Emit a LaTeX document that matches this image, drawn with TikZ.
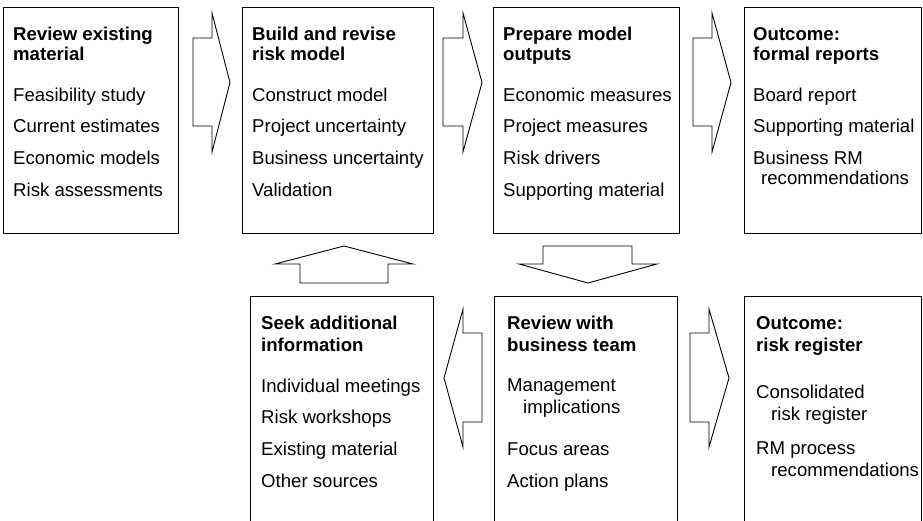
\documentclass[tikz,border=0pt]{standalone}
\usepackage{fontspec}
\setmainfont{Liberation Sans}
\begin{document}
\begin{tikzpicture}[x=1pt,y=-1pt,
  box/.style={draw=black, line width=0.9pt, inner sep=0, outer sep=0, anchor=north west},
  ttl/.style={font=\bfseries\fontsize{18.6}{20}\selectfont, anchor=base west, inner sep=0},
  itm/.style={font=\fontsize{18.6}{20}\selectfont, anchor=base west, inner sep=0},
  blockarrow/.style={draw=black, line width=0.9pt, line join=miter, fill=white}]
\useasboundingbox (0,0) rectangle (923,521);
\clip (0,0) rectangle (923,521);
% top row boxes
\node[box, minimum width=175pt, minimum height=226pt] (b1) at (3,7) {};
\node[box, minimum width=191pt, minimum height=226pt] (b2) at (242,7) {};
\node[box, minimum width=186pt, minimum height=226pt] (b3) at (493,7) {};
\node[box, minimum width=177pt, minimum height=226pt] (b4) at (744,7) {};
% bottom row boxes (open at the bottom edge)
\node[box, minimum width=183pt, minimum height=240pt] (b5) at (250,296) {};
\node[box, minimum width=183pt, minimum height=240pt] (b6) at (494,296) {};
\node[box, minimum width=177pt, minimum height=240pt] (b7) at (744,296) {};
% box 1
\node[ttl] (t1a) at (13,41) {Review existing};
\node[ttl] (t1b) at (13,61) {material};
\node[itm] (i1a) at (13,102) {Feasibility study};
\node[itm] (i1b) at (13,133) {Current estimates};
\node[itm] (i1c) at (13,165) {Economic models};
\node[itm] (i1d) at (13,197) {Risk assessments};
% box 2
\node[ttl] (t2a) at (252,41) {Build and revise};
\node[ttl] (t2b) at (252,61) {risk model};
\node[itm] (i2a) at (252,102) {Construct model};
\node[itm] (i2b) at (252,133) {Project uncertainty};
\node[itm] (i2c) at (252,165) {Business uncertainty};
\node[itm] (i2d) at (252,197) {Validation};
% box 3
\node[ttl] (t3a) at (503,41) {Prepare model};
\node[ttl] (t3b) at (503,61) {outputs};
\node[itm] (i3a) at (503,102) {Economic measures};
\node[itm] (i3b) at (503,133) {Project measures};
\node[itm] (i3c) at (503,165) {Risk drivers};
\node[itm] (i3d) at (503,197) {Supporting material};
% box 4
\node[ttl] (t4a) at (753,41) {Outcome:};
\node[ttl] (t4b) at (753,61) {formal reports};
\node[itm] (i4a) at (753,102) {Board report};
\node[itm] (i4b) at (753,133) {Supporting material};
\node[itm] (i4c) at (753,165) {Business RM};
\node[itm] (i4d) at (761,185) {recommendations};
% box 5
\node[ttl] (t5a) at (261,329) {Seek additional};
\node[ttl] (t5b) at (261,351) {information};
\node[itm] (i5a) at (261,392) {Individual meetings};
\node[itm] (i5b) at (261,423) {Risk workshops};
\node[itm] (i5c) at (261,455) {Existing material};
\node[itm] (i5d) at (261,487) {Other sources};
% box 6
\node[ttl] (t6a) at (507,329) {Review with};
\node[ttl] (t6b) at (507,351) {business team};
\node[itm] (i6a) at (507,391) {Management};
\node[itm] (i6b) at (523,413) {implications};
\node[itm] (i6c) at (507,455) {Focus areas};
\node[itm] (i6d) at (507,487) {Action plans};
% box 7
\node[ttl] (t7a) at (756,329) {Outcome:};
\node[ttl] (t7b) at (756,351) {risk register};
\node[itm] (i7a) at (756,398) {Consolidated};
\node[itm] (i7b) at (771,420) {risk register};
\node[itm] (i7c) at (756,454) {RM process};
\node[itm] (i7d) at (771,476) {recommendations};
% block arrows, top row (pointing right)
\draw[blockarrow] (193,38) -- (212,38) -- (212,13) -- (230,82.5) -- (212,152) -- (212,126) -- (193,126) -- cycle;
\draw[blockarrow] (443,38) -- (463,38) -- (463,13) -- (482,82.5) -- (463,152) -- (463,126) -- (443,126) -- cycle;
\draw[blockarrow] (693,38) -- (712,38) -- (712,13) -- (731,82.5) -- (712,152) -- (712,126) -- (693,126) -- cycle;
% up arrow and down arrow between rows
\draw[blockarrow] (300,283) -- (300,264) -- (275,264) -- (344,246) -- (413,264) -- (388,264) -- (388,283) -- cycle;
\draw[blockarrow] (543,246) -- (632,246) -- (632,264) -- (657,264) -- (588,283) -- (519,264) -- (543,264) -- cycle;
% bottom row arrows
\draw[blockarrow] (482,333) -- (463,333) -- (463,309) -- (444,378) -- (463,447) -- (463,422) -- (482,422) -- cycle;
\draw[blockarrow] (690,333) -- (709,333) -- (709,309) -- (729,378) -- (709,447) -- (709,422) -- (690,422) -- cycle;
\end{tikzpicture}
\end{document}
